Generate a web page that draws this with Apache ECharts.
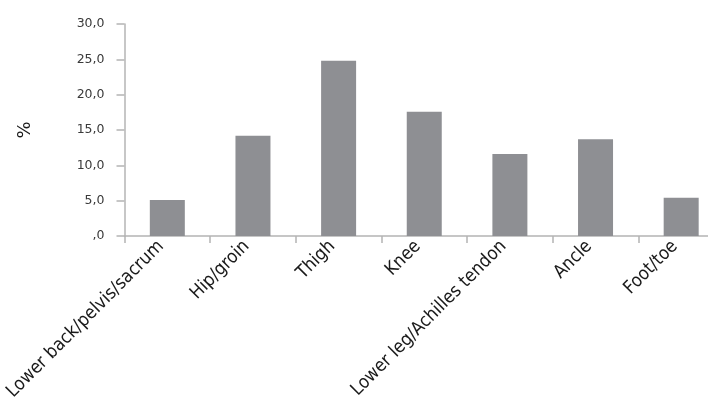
<!DOCTYPE html>
<html>
<head>
<meta charset="utf-8">
<script src="https://cdn.jsdelivr.net/npm/echarts@6/dist/echarts.min.js"></script>
<style>
  html, body { margin: 0; padding: 0; background: #fff; }
  #chart { width: 708px; height: 405px; }
</style>
</head>
<body>
<div id="chart"></div>
<script>
// Injury location distribution (%)
const categories = [
  'Lower back/pelvis/sacrum',
  'Hip/groin',
  'Thigh',
  'Knee',
  'Lower leg/Achilles tendon',
  'Ancle',
  'Foot/toe'
];
const percentValues = [5.1, 14.2, 24.8, 17.6, 11.6, 13.7, 5.4];
const yTicks = [0, 5, 10, 15, 20, 25, 30];

// Comma decimal formatting; zero shown as ",0"
function fmt(v) {
  const s = v.toFixed(1).replace('.', ',');
  return s.startsWith('0,') ? s.slice(1) : s;
}

const chart = echarts.init(document.getElementById('chart'), null, { renderer: 'canvas' });
chart.setOption({
  animation: false,
  backgroundColor: '#ffffff',
  // plot area runs past the right edge of the canvas
  grid: {
    left: 124.5, width: 599.5, top: 24, height: 212,
    containLabel: false,
    outerBoundsMode: 'none'
  },
  xAxis: {
    type: 'category',
    data: categories,
    axisLine: { show: true, lineStyle: { color: '#b4b4b4', width: 1.5 } },
    axisTick: { show: true, length: 7, alignWithLabel: false, lineStyle: { color: '#b4b4b4', width: 1.5 } },
    axisLabel: {
      rotate: 45,
      interval: 0,
      margin: 14,
      verticalAlign: 'bottom',
      color: '#1a1a1a',
      fontFamily: '"DejaVu Sans Condensed", sans-serif',
      fontSize: 18.3
    }
  },
  yAxis: {
    type: 'value',
    min: yTicks[0],
    max: yTicks[yTicks.length - 1],
    interval: 5,
    name: '%',
    nameLocation: 'middle',
    nameRotate: 90,
    nameGap: 90,
    nameTextStyle: { color: '#1a1a1a', fontSize: 18, fontFamily: '"DejaVu Sans", sans-serif' },
    axisLine: { show: true, lineStyle: { color: '#b4b4b4', width: 1.5 } },
    axisTick: { show: true, inside: false, length: 8, lineStyle: { color: '#b4b4b4', width: 1.5 } },
    splitLine: { show: false },
    axisLabel: {
      margin: 20,
      color: '#3a3a3a',
      fontSize: 12.5,
      fontFamily: '"DejaVu Sans", Verdana, sans-serif',
      formatter: fmt
    }
  },
  series: [{
    type: 'bar',
    data: percentValues,
    barWidth: 35,
    itemStyle: { color: '#8e8f93' }
  }]
});
</script>
</body>
</html>
